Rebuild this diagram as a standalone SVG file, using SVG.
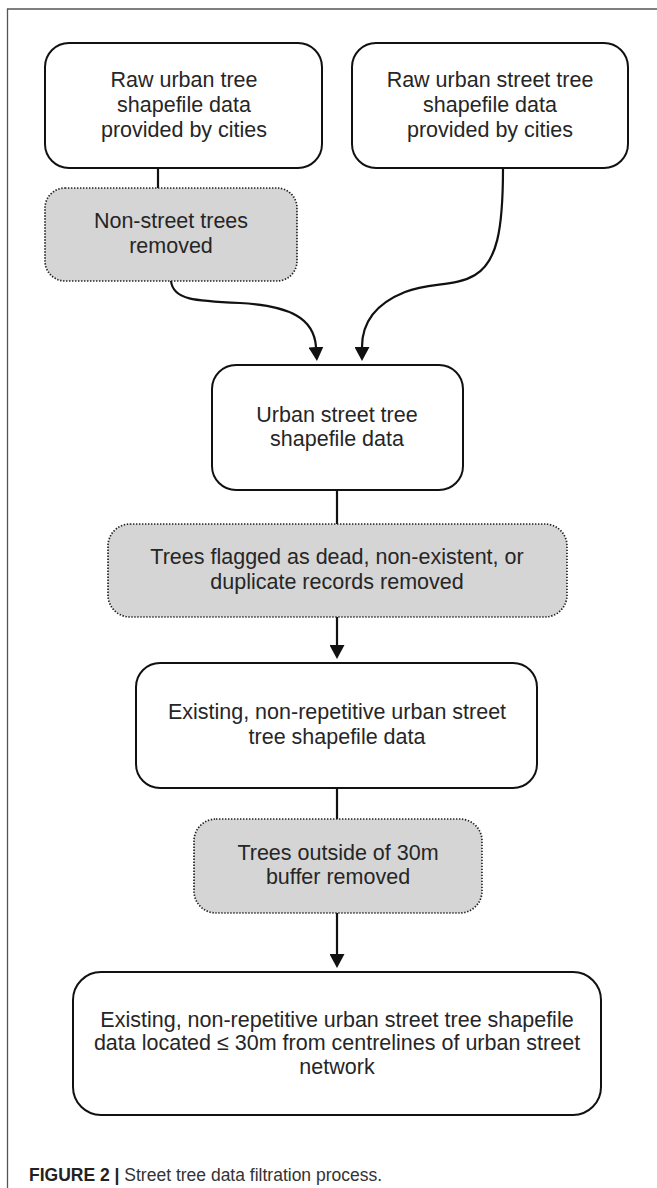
<svg xmlns="http://www.w3.org/2000/svg" width="657" height="1188" viewBox="0 0 657 1188">
<style>
.box{fill:#fff;stroke:#111;stroke-width:2}
.filter{fill:#d5d5d5;stroke:#222;stroke-width:1.7;stroke-dasharray:1.4 1.6}
.t{font-family:"Liberation Sans",Arial,Helvetica,sans-serif;font-size:21.5px;fill:#262626;text-anchor:middle}
.c{fill:none;stroke:#111;stroke-width:2.2}
.cap{font-family:"Liberation Sans",Arial,Helvetica,sans-serif;font-size:17.5px;fill:#333}
</style>
<defs>
<marker id="ah" viewBox="0 0 14 15" refX="0" refY="7.5" markerWidth="14" markerHeight="15" markerUnits="userSpaceOnUse" orient="auto">
<path d="M0,0 L14,7.5 L0,15 z" fill="#111"/>
</marker>
</defs>
<g id="frame">
<path d="M7.5,1188 L7.5,9 L657,9" fill="none" stroke="#555" stroke-width="1.3"/>
</g>
<g id="connectors">
<path class="c" d="M158,168 L158,188"/>
<path class="c" d="M171,281 C173,300 195,301 240,303 C290,306 314,318 316,347" marker-end="url(#ah)"/>
<path class="c" d="M503,168 C503,230 497,262 475,275 C455,287 430,282 405,292 C375,304 362,322 362,347" marker-end="url(#ah)"/>
<path class="c" d="M337,490 L337,524"/>
<path class="c" d="M337,617 L337,645" marker-end="url(#ah)"/>
<path class="c" d="M337,788 L337,819"/>
<path class="c" d="M337,913 L337,954" marker-end="url(#ah)"/>
</g>
<g id="n1">
<rect class="box" x="45" y="43" width="277" height="125" rx="24"/>
<text class="t" x="184" y="87">Raw urban tree</text>
<text class="t" x="184" y="112">shapefile data</text>
<text class="t" x="184" y="137">provided by cities</text>
</g>
<g id="n2">
<rect class="box" x="352" y="43" width="276" height="125" rx="24"/>
<text class="t" x="490" y="87">Raw urban street tree</text>
<text class="t" x="490" y="112">shapefile data</text>
<text class="t" x="490" y="137">provided by cities</text>
</g>
<g id="n3">
<rect class="filter" x="45" y="188" width="252" height="93" rx="20"/>
<text class="t" x="171" y="228">Non-street trees</text>
<text class="t" x="171" y="253">removed</text>
</g>
<g id="n4">
<rect class="box" x="212" y="365" width="251" height="125" rx="24"/>
<text class="t" x="337" y="422">Urban street tree</text>
<text class="t" x="337" y="446">shapefile data</text>
</g>
<g id="n5">
<rect class="filter" x="108" y="524" width="459" height="93" rx="22"/>
<text class="t" x="337" y="564">Trees flagged as dead, non-existent, or</text>
<text class="t" x="337" y="589">duplicate records removed</text>
</g>
<g id="n6">
<rect class="box" x="136" y="663" width="401" height="125" rx="24"/>
<text class="t" x="337" y="719">Existing, non-repetitive urban street</text>
<text class="t" x="337" y="744">tree shapefile data</text>
</g>
<g id="n7">
<rect class="filter" x="194" y="819" width="288" height="94" rx="22"/>
<text class="t" x="338" y="860">Trees outside of 30m</text>
<text class="t" x="338" y="884">buffer removed</text>
</g>
<g id="n8">
<rect class="box" x="73" y="972" width="528" height="143" rx="28"/>
<text class="t" x="337" y="1027">Existing, non-repetitive urban street tree shapefile</text>
<text class="t" x="337" y="1050">data located ≤ 30m from centrelines of urban street</text>
<text class="t" x="337" y="1074">network</text>
</g>
<g id="caption">
<text class="cap" x="29" y="1181"><tspan font-weight="bold" fill="#222">FIGURE 2 |</tspan> Street tree data filtration process.</text>
</g>
</svg>
